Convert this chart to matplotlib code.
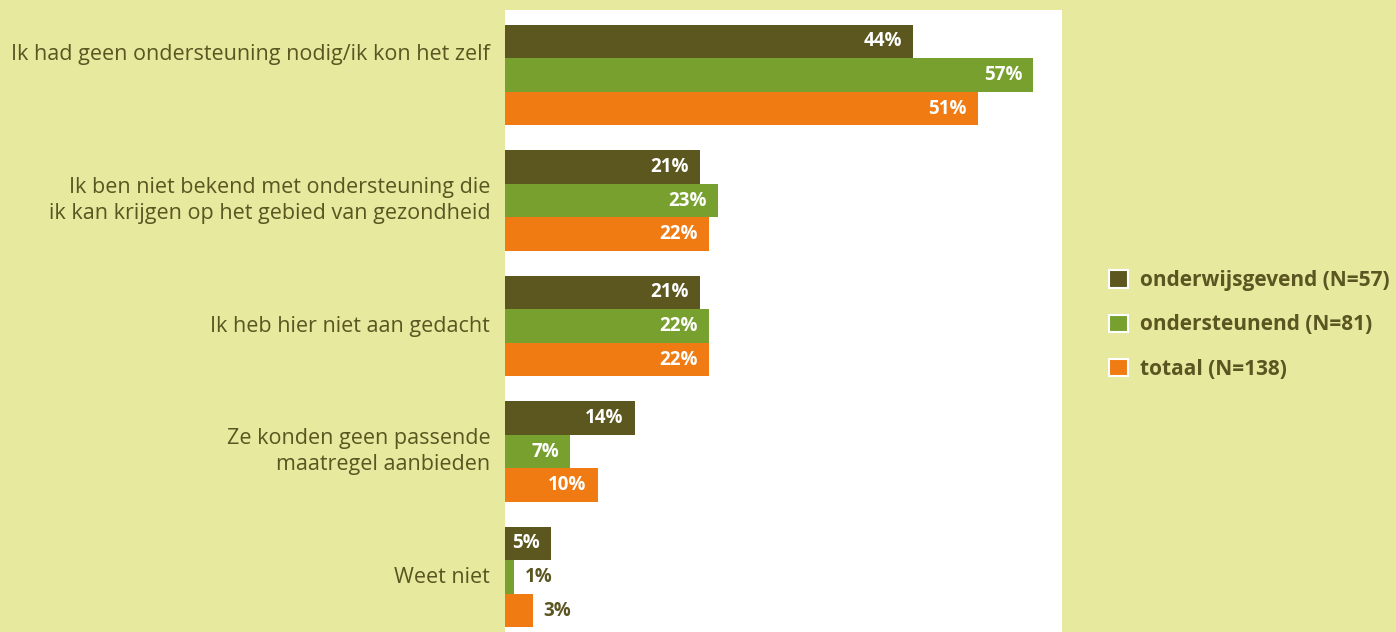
import matplotlib.pyplot as plt
from matplotlib.patches import Patch
import numpy as np

# survey answers and percentages per group
categories = [
    "Ik had geen ondersteuning nodig/ik kon het zelf",
    "Ik ben niet bekend met ondersteuning die\nik kan krijgen op het gebied van gezondheid",
    "Ik heb hier niet aan gedacht",
    "Ze konden geen passende\nmaatregel aanbieden",
    "Weet niet",
]
onderwijsgevend = [44, 21, 21, 14, 5]
ondersteunend = [57, 23, 22, 7, 1]
totaal = [51, 22, 22, 10, 3]
series_labels = ["onderwijsgevend (N=57)", "ondersteunend (N=81)", "totaal (N=138)"]

bg = "#e6e99e"
text_col = "#5a5521"
colors = ["#5c571f", "#78a02e", "#ef7b12"]

plt.rcParams['font.family'] = ['Open Sans', 'DejaVu Sans']

fig = plt.figure(figsize=(13.96, 6.32), dpi=100, facecolor=bg)
ax = fig.add_axes([505 / 1396, 0, 557 / 1396, 622 / 632])
ax.set_facecolor("white")

y = np.arange(len(categories))
h = 0.268
series = [onderwijsgevend, ondersteunend, totaal]
for k, (vals, col) in enumerate(zip(series, colors)):
    pos = y + (k - 1) * h
    ax.barh(pos, vals, height=h, color=col, linewidth=0)
    for p, v in zip(pos, vals):
        if v >= 5:
            ax.text(v - 1.2, p, f"{v}%", ha='right', va='center', color='white',
                    fontsize=13.5, fontweight='bold')
        else:
            ax.text(v + 1.1, p, f"{v}%", ha='left', va='center', color=text_col,
                    fontsize=13.5, fontweight='bold')

ax.set_xlim(0, 60.1)
ax.set_ylim(4.438, -0.518)
ax.set_xticks([])
ax.set_yticks([])
for s in ax.spines.values():
    s.set_visible(False)

# category labels left of the bars
label_shift = [-0.16, 0, 0, 0, 0]
for yi, cat, dy in zip(y, categories, label_shift):
    ax.text(-1.6, yi + dy, cat, ha='right', va='center', color=text_col,
            fontsize=15.5, linespacing=1.3, multialignment='right')

handles = [Patch(facecolor=c, edgecolor='white', linewidth=1.5) for c in colors]
leg = fig.legend(handles, series_labels, loc='center left',
                 bbox_to_anchor=(1099 / 1396, 1 - 325 / 632), frameon=False,
                 fontsize=15, labelspacing=1.12, handlelength=0.9,
                 handleheight=0.9, handletextpad=0.55, borderpad=0)
for t in leg.get_texts():
    t.set_color(text_col)
    t.set_fontweight('bold')

fig.savefig("out.png", dpi=100, facecolor=bg)
